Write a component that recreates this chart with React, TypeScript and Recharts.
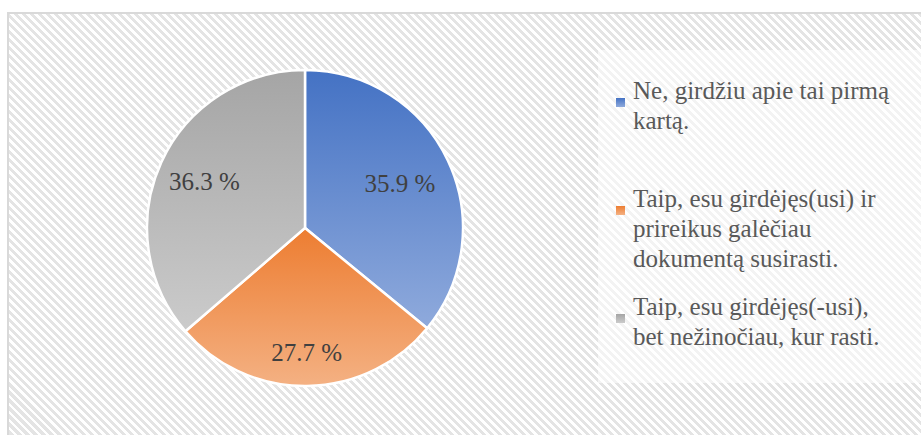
import React from "react";
import { PieChart, Pie, Cell, Legend } from "recharts";

const categories = [
  "Ne, girdžiu apie tai pirmą kartą.",
  "Taip, esu girdėjęs(usi) ir prireikus galėčiau dokumentą susirasti.",
  "Taip, esu girdėjęs(-usi), bet nežinočiau, kur rasti.",
];
const values = [35.9, 27.7, 36.3];

const gradTop = ["#4472C4", "#ED7D31", "#A5A5A5"];
const gradBottom = ["#8FAADC", "#F4B183", "#CBCBCB"];
const labelRadiusFactor = [0.665, 0.785, 0.7];

const data = categories.map((name, i) => ({ name, value: values[i] }));

const FONT =
  "'Liberation Serif', Tinos, 'Nimbus Roman', 'Nimbus Roman No9 L', FreeSerif, 'DejaVu Serif', 'Noto Serif', 'Times New Roman', Times, serif";
const RAD = Math.PI / 180;

const renderLabel = (props: any) => {
  const { cx, cy, midAngle, outerRadius, value, index } = props;
  const r = outerRadius * labelRadiusFactor[index];
  const x = cx + r * Math.cos(-midAngle * RAD);
  const y = cy + r * Math.sin(-midAngle * RAD);
  return (
    <text
      x={x}
      y={y}
      textAnchor="middle"
      dominantBaseline="central"
      fill="#404040"
      style={{ fontFamily: FONT, fontSize: 25 }}
    >
      {`${Number(value).toFixed(1)} %`}
    </text>
  );
};

const LegendContent = () => (
  <div style={{ fontFamily: FONT, fontSize: 25, lineHeight: "30px", color: "#595959" }}>
    {data.map((d, i) => (
      <div key={i} style={{ position: "relative", height: 108, paddingLeft: 21 }}>
        <div
          style={{
            position: "absolute",
            left: 4,
            top: 22,
            width: 9,
            height: 9,
            background: `linear-gradient(${gradTop[i]}, ${gradBottom[i]})`,
          }}
        />
        <div style={{ width: 262 }}>{d.name}</div>
      </div>
    ))}
  </div>
);

export default function App() {
  return (
    <div
      style={{
        position: "absolute",
        left: 0,
        top: 0,
        width: 921,
        height: 435,
        overflow: "hidden",
        background: "#ffffff",
      }}
    >
      <div
        style={{
          position: "absolute",
          left: 7,
          top: 12,
          width: 940,
          height: 440,
          border: "2px solid #d9d9d9",
          background:
            "repeating-linear-gradient(45deg, #ffffff 0px, #ffffff 2.8px, #e4e4e4 2.8px, #e4e4e4 5.66px)",
        }}
      />
      <div
        style={{
          position: "absolute",
          left: 598,
          top: 50,
          width: 340,
          height: 333,
          background: "rgba(255,255,255,0.55)",
        }}
      />
      <div style={{ position: "absolute", left: 0, top: 0 }}>
        <PieChart width={921} height={435} margin={{ top: 0, right: 0, bottom: 0, left: 0 }}>
          <defs>
            {data.map((_, i) => (
              <linearGradient key={i} id={`grad${i}`} x1="0" y1="0" x2="0" y2="1">
                <stop offset="0%" stopColor={gradTop[i]} />
                <stop offset="100%" stopColor={gradBottom[i]} />
              </linearGradient>
            ))}
          </defs>
          <Pie
            data={data}
            dataKey="value"
            nameKey="name"
            cx={305}
            cy={228}
            outerRadius={158}
            startAngle={90}
            endAngle={-270}
            stroke="#ffffff"
            strokeWidth={2.5}
            label={renderLabel}
            labelLine={false}
            isAnimationActive={false}
          >
            {data.map((_, i) => (
              <Cell key={i} fill={`url(#grad${i})`} />
            ))}
          </Pie>
          <Legend
            layout="vertical"
            align="right"
            verticalAlign="top"
            content={<LegendContent />}
            wrapperStyle={{ left: 612, top: 76, width: 309, right: "auto", bottom: "auto" }}
          />
        </PieChart>
      </div>
    </div>
  );
}
